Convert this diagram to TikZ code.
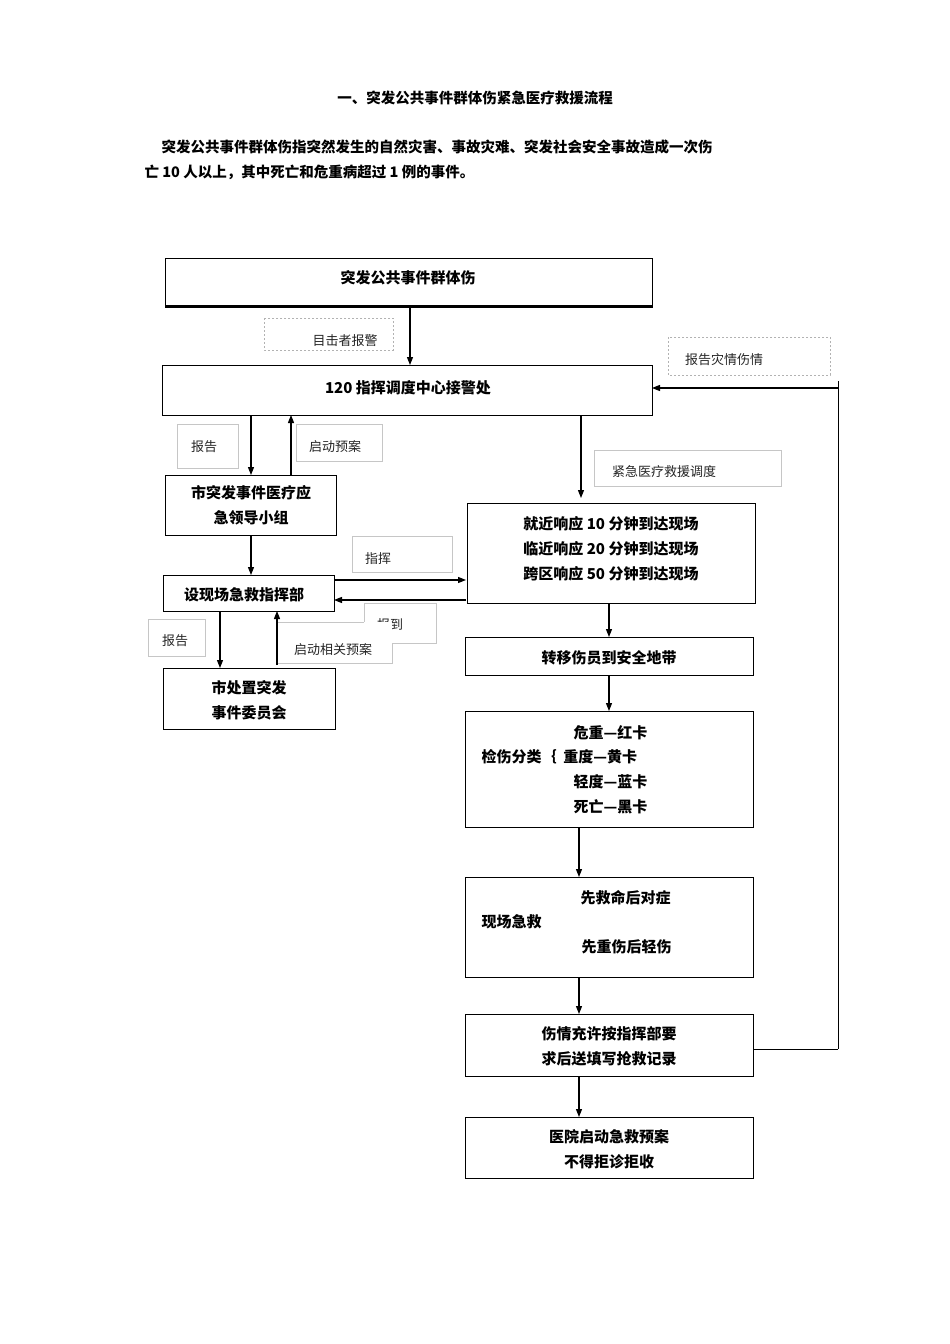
\documentclass[tikz,border=0pt]{standalone}
\usepackage{fontspec}
\setmainfont{Liberation Serif}
\newfontfamily\cjk{Noto Sans CJK SC}
\newfontfamily\cjkb{Noto Sans CJK SC}[BoldFont={Noto Sans CJK SC Bold}]
\usetikzlibrary{arrows.meta}
\begin{document}
\begin{tikzpicture}[x=1pt,y=-1pt,
  box/.style={draw,line width=1pt,inner sep=0pt},
  lbl/.style={draw=gray!45,line width=0.6pt},
  dlbl/.style={draw=gray!60,dashed,dash pattern=on 2pt off 2pt,line width=0.6pt},
  bt/.style={font=\fontsize{15}{25}\selectfont\cjk\bfseries,align=center},
  lt/.style={font=\fontsize{13}{16}\selectfont\cjk,text=black!85},
  arr/.style={line width=1.2pt,-{Triangle[length=8pt,width=6pt]}}]
\useasboundingbox[fill=white] (0,0) rectangle (950,1344);
\node[font=\fontsize{14.5}{18}\selectfont\cjk\bfseries] (title) at (475,98) {一、突发公共事件群体伤紧急医疗救援流程};
\node[font=\fontsize{14.5}{18}\selectfont\cjk\bfseries,anchor=west] (p1) at (158,147) {突发公共事件群体伤指突然发生的自然灾害、事故灾难、突发社会安全事故造成一次伤};
\node[font=\fontsize{14.5}{18}\selectfont\cjk\bfseries,anchor=west] (p2) at (141,172) {亡 10 人以上，其中死亡和危重病超过 1 例的事件。};
% boxes
\draw[box] (165,258) rectangle (652,307);
\draw[line width=2pt] (165,306) -- (652,306);
\node[bt] (b1) at (408,278) {突发公共事件群体伤};
\draw[box] (162,365) rectangle (652,415); \node[bt] (b2) at (408,388) {120 指挥调度中心接警处};
\draw[box] (165,475) rectangle (336,535); \node[bt] (b3) at (251,505) {市突发事件医疗应\\急领导小组};
\draw[box] (467,503) rectangle (755,603); \node[bt] (b4) at (611,549) {就近响应 10 分钟到达现场\\临近响应 20 分钟到达现场\\跨区响应 50 分钟到达现场};
\draw[box] (163,575) rectangle (334,611); \node[bt] (b5) at (244,595) {设现场急救指挥部};
\draw[box] (163,668) rectangle (335,729); \node[bt] (b6) at (249,700) {市处置突发\\事件委员会};
\draw[box] (465,637) rectangle (753,675); \node[bt] (b7) at (609,658) {转移伤员到安全地带};
\draw[box] (465,711) rectangle (753,827);
\node[bt,anchor=west] (b8a) at (570,733) {危重—红卡};
\node[bt,anchor=west] (b8b) at (478,757) {检伤分类｛\ \ 重度—黄卡};
\node[bt,anchor=west] (b8c) at (570,782) {轻度—蓝卡};
\node[bt,anchor=west] (b8d) at (570,807) {死亡—黑卡};
\draw[box] (465,877) rectangle (753,977);
\node[bt,anchor=west] (b9a) at (577,898) {先救命后对症};
\node[bt,anchor=west] (b9b) at (478,922) {现场急救};
\node[bt,anchor=west] (b9c) at (578,947) {先重伤后轻伤};
\draw[box] (465,1014) rectangle (753,1076); \node[bt] (b10) at (609,1046) {伤情充许按指挥部要\\求后送填写抢救记录};
\draw[box] (465,1117) rectangle (753,1178); \node[bt] (b11) at (609,1149) {医院启动急救预案\\不得拒诊拒收};
% labels
\draw[dlbl] (264,318) rectangle (393,350); \node[lt] (l1) at (345,341) {目击者报警};
\draw[dlbl] (668,337) rectangle (830,375); \node[lt] (l2) at (724,360) {报告灾情伤情};
\draw[lbl] (177,424) rectangle (238,468); \node[lt] (l3) at (204,447) {报告};
\draw[lbl] (296,424) rectangle (382,461); \node[lt] (l4) at (335,447) {启动预案};
\draw[lbl] (594,450) rectangle (781,486); \node[lt] (l5) at (664,472) {紧急医疗救援调度};
\draw[lbl] (352,536) rectangle (452,572); \node[lt] (l6) at (378,559) {指挥};
\draw[lbl] (364,603) rectangle (436,643); \node[lt] (l7) at (390,625) {报到};
\fill[white] (278,622) rectangle (392,663);
\draw[lbl] (278,622) -- (364,622) (392,643) -- (392,663) -- (278,663);
\node[lt] (l8) at (333,650) {启动相关预案};
\draw[lbl] (148,619) rectangle (205,656); \node[lt] (l9) at (175,641) {报告};
% coords
\coordinate (c1) at (410,307); \coordinate (c2) at (410,365);
\coordinate (r1) at (838,381); \coordinate (r2) at (838,1049); \coordinate (r3) at (838,388);
% arrows
\draw[arr] (c1) -- (c2);
\draw[line width=1pt] (r1) -- (r2);
\draw[line width=1pt] (753,1049) -- (r2);
\draw[arr] (r3) -- (652,388);
\draw[arr] (251,415) -- (251,475);
\draw[arr] (291,475) -- (291,415);
\draw[arr] (581,415) -- (581,498);
\draw[arr] (251,535) -- (251,575);
\draw[arr] (334,580) -- (466,580);
\draw[arr] (466,600) -- (334,600);
\draw[arr] (220,611) -- (220,668);
\draw[arr] (277,665) -- (277,611);
\draw[arr] (609,603) -- (609,637);
\draw[arr] (609,675) -- (609,711);
\draw[arr] (579,827) -- (579,877);
\draw[arr] (579,977) -- (579,1014);
\draw[arr] (579,1076) -- (579,1117);
\end{tikzpicture}
\end{document}
